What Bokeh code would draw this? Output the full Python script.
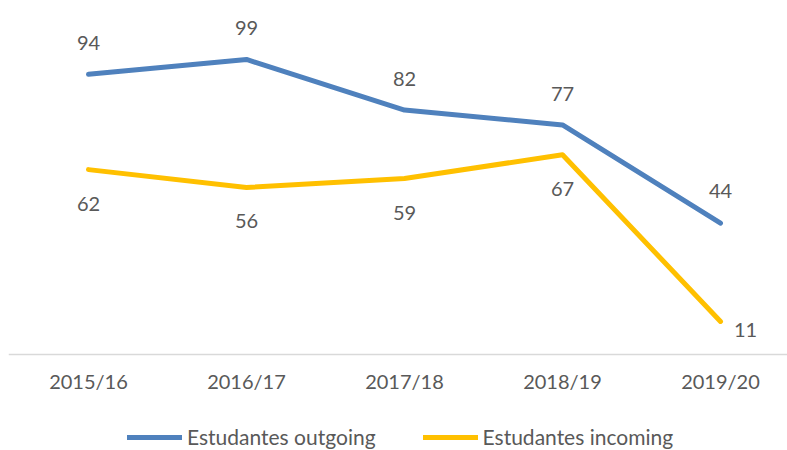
from bokeh.plotting import figure
from bokeh.models import (ColumnDataSource, Range1d, FixedTicker, LabelSet,
                          Legend, LegendItem)
from bokeh.core.properties import value
from bokeh.embed import file_html
from bokeh.resources import INLINE

# ---- data ----
years = ["2015/16", "2016/17", "2017/18", "2018/19", "2019/20"]
outgoing = [94, 99, 82, 77, 44]
incoming = [62, 56, 59, 67, 11]
series_names = ["Estudantes outgoing", "Estudantes incoming"]

FONT = "Lato"
TXT = "#595959"
BLUE = "#4F81BD"
YELLOW = "#FFC000"

idx = list(range(len(years)))

p = figure(width=787, height=450, output_backend="svg", toolbar_location=None,
           x_range=Range1d(-0.5063, 4.424), y_range=Range1d(-32.35, 116.12),
           min_border_left=8, min_border_right=0, min_border_top=8,
           min_border_bottom=0)
p.outline_line_color = None
p.xgrid.visible = False
p.ygrid.visible = False
p.yaxis.visible = False

ax = p.xaxis[0]
ax.fixed_location = 0
ax.ticker = FixedTicker(ticks=idx)
ax.major_label_overrides = {i: y for i, y in enumerate(years)}
ax.major_tick_line_color = None
ax.minor_tick_line_color = None
ax.axis_line_color = "#D9D9D9"
ax.axis_line_width = 1.5
ax.major_label_standoff = 9
ax.major_label_text_font = FONT
ax.major_label_text_font_size = "20px"
ax.major_label_text_color = TXT

src_out = ColumnDataSource(dict(x=idx, y=outgoing, t=[str(v) for v in outgoing],
                                yo=[31] * 4 + [32], xo=[0] * 5))
src_in = ColumnDataSource(dict(x=idx, y=incoming, t=[str(v) for v in incoming],
                               yo=[-34] * 4 + [-9], xo=[0] * 4 + [25]))

r1 = p.line("x", "y", source=src_out, line_color=BLUE, line_width=5,
            line_cap="round", line_join="round")
r2 = p.line("x", "y", source=src_in, line_color=YELLOW, line_width=5,
            line_cap="round", line_join="round")

for src in (src_out, src_in):
    p.add_layout(LabelSet(x="x", y="y", text="t", source=src, x_offset="xo",
                          y_offset="yo", text_align="center",
                          text_baseline="middle", text_font=value(FONT),
                          text_font_size=value("20px"), text_color=TXT))

legend = Legend(items=[LegendItem(label=series_names[0], renderers=[r1]),
                       LegendItem(label=series_names[1], renderers=[r2])],
                orientation="horizontal", location=(119, 1),
                padding=0, margin=0, spacing=47,
                glyph_width=55, glyph_height=20, label_height=20,
                label_standoff=5, border_line_color=None,
                background_fill_alpha=0,
                label_text_font=FONT, label_text_font_size="21px",
                label_text_color=TXT)
p.add_layout(legend)

open("out.html", "w").write(file_html(p, INLINE))
